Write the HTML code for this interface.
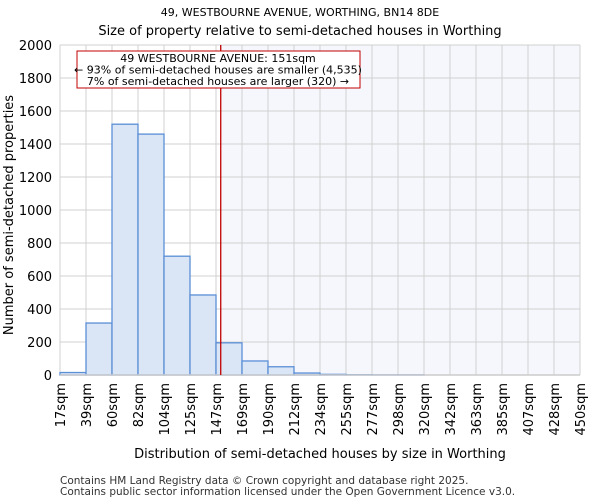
<!DOCTYPE html>
<html><head><meta charset="utf-8"><style>
body{margin:0;background:#fff;font-family:"DejaVu Sans","Liberation Sans",sans-serif;}
svg text{font-family:"DejaVu Sans","Liberation Sans",sans-serif;}
</style></head><body>
<svg id="chart" width="600" height="500" xmlns="http://www.w3.org/2000/svg">
<text x="300" y="16" text-anchor="middle" font-size="11">49, WESTBOURNE AVENUE, WORTHING, BN14 8DE</text>
<text x="300" y="35" text-anchor="middle" font-size="13">Size of property relative to semi-detached houses in Worthing</text>
<g id="plot"></g>
<text x="320" y="458" text-anchor="middle" font-size="13">Distribution of semi-detached houses by size in Worthing</text>
<text transform="translate(13,215) rotate(-90)" text-anchor="middle" font-size="13">Number of semi-detached properties</text>
<text x="60" y="484" font-size="10.5" fill="#333">Contains HM Land Registry data © Crown copyright and database right 2025.</text>
<text x="60" y="495" font-size="10.5" fill="#333">Contains public sector information licensed under the Open Government Licence v3.0.</text>
</svg>
<script>
const binEdges=[17,39,60,82,104,125,147,169,190,212,234,255,277,298,320,342,363,385,407,428,450];
const counts=[15,315,1520,1460,720,485,195,85,50,12,4,2,1,1,0,0,0,0,0,0];
const yTicks=[0,200,400,600,800,1000,1200,1400,1600,1800,2000];
const propertySize=151;
const L=60,R=580,T=45,B=375,yMax=2000;
const n=counts.length,bw=(R-L)/n;
const NS="http://www.w3.org/2000/svg";
const g=document.getElementById('plot');
function xIdx(i){return L+i*bw;}
function xVal(v){for(let i=0;i<binEdges.length-1;i++){if(v<=binEdges[i+1])return xIdx(i)+(v-binEdges[i])/(binEdges[i+1]-binEdges[i])*bw;}return R;}
function y(v){return B-v/yMax*(B-T);}
function mk(t,a,p){const e=document.createElementNS(NS,t);for(const k in a)e.setAttribute(k,a[k]);(p||g).appendChild(e);return e;}
const px=xVal(propertySize);
const sh=mk('rect',{x:px,y:T,width:R-px,height:B-T,fill:'#f5f7fd'});


for(let i=0;i<=n;i++){const l=mk('line',{x1:xIdx(i),x2:xIdx(i),y1:T,y2:B,stroke:'#d0d0d0','stroke-width':1});

}
yTicks.forEach(v=>{const l=mk('line',{x1:L,x2:R,y1:y(v),y2:y(v),stroke:'#d0d0d0','stroke-width':1});


const t=mk('text',{x:L-8,y:y(v)+5,'text-anchor':'end','font-size':13});t.textContent=v;

});
counts.forEach((c,i)=>{const r=mk('rect',{x:xIdx(i),y:y(c),width:bw,height:B-y(c),fill:'#dae5f5',stroke:'#5b8fd6','stroke-width':1.3});

});
binEdges.forEach((v,i)=>{const t=mk('text',{transform:'translate('+(xIdx(i)+5)+','+(B+8)+') rotate(-90)','text-anchor':'end','font-size':13});t.textContent=v+'sqm';

});
const ax=mk('line',{x1:L,x2:R,y1:B,y2:B,stroke:'#cccccc','stroke-width':1.5});


const ml=mk('line',{x1:px,x2:px,y1:T,y2:B,stroke:'#c00000','stroke-width':1.3});


const box=mk('rect',{x:77,y:51,width:283,height:37,fill:'#fff',stroke:'#c00000','stroke-width':1});


const lines=['49 WESTBOURNE AVENUE: 151sqm','← 93% of semi-detached houses are smaller (4,535)','7% of semi-detached houses are larger (320) →'];
lines.forEach((s,i)=>{const t=mk('text',{x:218,y:62+i*11.5,'text-anchor':'middle','font-size':11,textLength:i==0?null:null});t.textContent=s;

});
</script>
</body></html>
